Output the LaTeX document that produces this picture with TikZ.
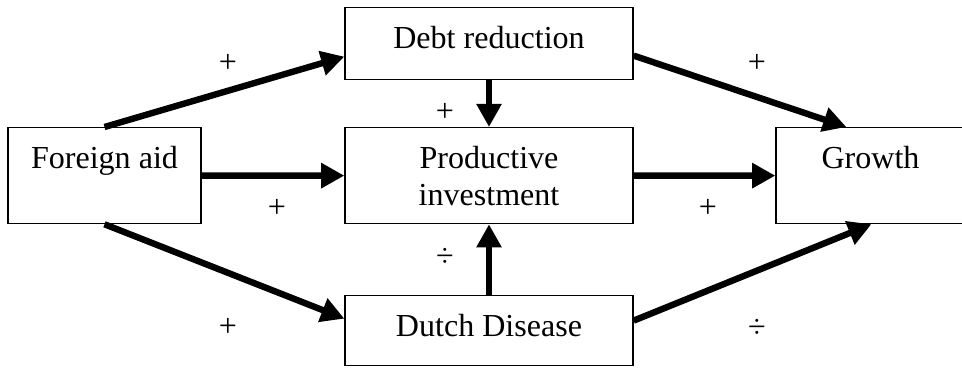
\documentclass[tikz,border=0pt]{standalone}
\usepackage{fontspec}
\setmainfont{Liberation Serif}
\usetikzlibrary{arrows.meta}
\tikzset{
  every node/.style={font=\fontsize{22.8}{26.2}\selectfont},
  box/.style={draw, line width=0.9pt, anchor=north, inner sep=0pt, minimum width=7.2cm},
  link/.style={line width=0.16cm, -{Triangle[length=0.58cm,width=0.6cm]}},
  sign/.style={inner sep=0pt}
}

\begin{document}
\begin{tikzpicture}
  \useasboundingbox (0,0) rectangle (24.05,9.175);

  \node [box, minimum width=4.825cm, text height=1.025cm, text depth=1.375cm] (aid) at (2.6125,6.0) {Foreign aid};
  \node [box, text height=1.025cm, text depth=0.775cm] (debt) at (12.225,9.0) {Debt reduction};
  \node [box, minimum height=2.4cm, align=center] (invest) at (12.225,6.0) {Productive\\investment};
  \node [box, text height=1.025cm, text depth=0.725cm] (dutch) at (12.225,1.8) {Dutch Disease};
  \node [box, minimum width=4.725cm, text height=1.025cm, text depth=1.375cm] (growth) at (21.7625,6.0) {Growth};

  \draw [link] (aid.north) -- ([yshift=-0.325cm]debt.west);
  \draw [link] (aid.east) -- (invest.west);
  \draw [link] (aid.south) -- ([yshift=0.3cm]dutch.west);
  \draw [link] (debt.south) -- (invest.north);
  \draw [link] (dutch.north) -- (invest.south);
  \draw [link] ([yshift=-0.3cm]debt.east) -- ([xshift=1.775cm]growth.north west);
  \draw [link] (invest.east) -- (growth.west);
  \draw [link] ([yshift=0.25cm]dutch.east) -- ([xshift=2.4cm]growth.south west);

  % signs of the effects
  \node [sign] (aiddebt) at (5.7,7.6) {+};
  \node [sign] (debtinvest) at (11.125,6.375) {+};
  \node [sign] (aidinvest) at (6.925,3.975) {+};
  \node [sign] (dutchinvest) at (11.125,2.75) {÷};
  \node [sign] (aiddutch) at (5.7,1.0) {+};
  \node [sign] (debtgrowth) at (18.925,7.6) {+};
  \node [sign] (investgrowth) at (17.7,3.975) {+};
  \node [sign] (dutchgrowth) at (18.925,0.975) {÷};
\end{tikzpicture}
\end{document}
